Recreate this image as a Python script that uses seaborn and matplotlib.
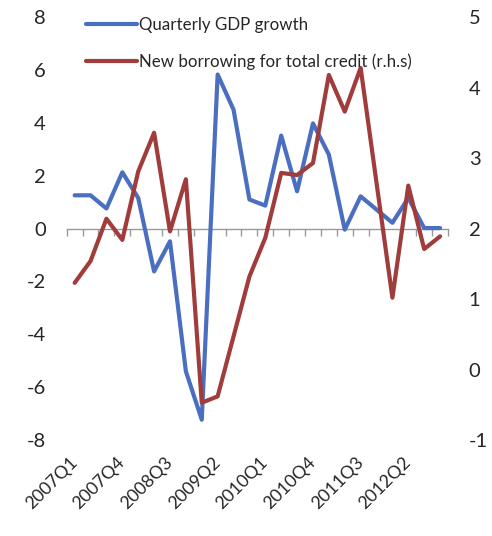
import numpy as np
import pandas as pd
import matplotlib
matplotlib.use('Agg')
import matplotlib.pyplot as plt
import seaborn as sns

# quarters 2007Q1 .. 2012Q4
quarters = [f'{y}Q{q}' for y in range(2007, 2013) for q in range(1, 5)]

gdp_growth = [1.26, 1.26, 0.76, 2.13, 1.16, -1.62, -0.48, -5.40, -7.23, 5.83,
              4.50, 1.10, 0.87, 3.52, 1.41, 3.98, 2.80, -0.04, 1.22, 0.72,
              0.22, 1.16, 0.02, 0.02]
new_borrowing = [1.23, 1.54, 2.14, 1.84, 2.81, 3.36, 1.96, 2.70, -0.47, -0.38,
                 0.47, 1.32, 1.87, 2.79, 2.76, 2.93, 4.18, 3.66, 4.28, 2.65,
                 1.02, 2.61, 1.71, 1.89]

df = pd.DataFrame({'quarter': quarters, 'gdp': gdp_growth, 'credit': new_borrowing})
df['pos'] = np.arange(len(df))

sns.set_style('white')
plt.rcParams['font.family'] = ['Lato', 'DejaVu Sans']
plt.rcParams['axes.unicode_minus'] = False

blue = '#4A6FC0'
red = '#A03C3C'

fig = plt.figure(figsize=(4.92, 5.36), dpi=100)
ax = fig.add_axes([0.1356, 0.179, 0.775, 0.789])
ax2 = ax.twinx()

sns.lineplot(data=df, x='pos', y='gdp', ax=ax, color=blue, lw=3,
             label='Quarterly GDP growth', legend=False)
sns.lineplot(data=df, x='pos', y='credit', ax=ax2, color=red, lw=3,
             label='New borrowing for total credit (r.h.s)', legend=False)

ax.set_xlim(-0.5, len(df) - 0.5)
ax.set_ylim(-8, 8)
ax2.set_ylim(-1, 5)
ax.set_yticks(range(-8, 9, 2))
ax2.set_yticks(range(-1, 6))

for a in (ax, ax2):
    for s in a.spines.values():
        s.set_visible(False)
    a.set_xlabel('')
    a.set_ylabel('')
ax.tick_params(axis='y', length=0, pad=15, labelsize=14.5)
ax2.tick_params(axis='y', length=0, pad=15, labelsize=14.5)

# category labels every 3 quarters along the bottom
ax.set_xticks(df['pos'][::3])
ax.set_xticklabels(df['quarter'][::3], rotation=45, ha='right', va='center',
                   rotation_mode='anchor', fontsize=12.8)
ax.tick_params(axis='x', length=0, pad=14)

# horizontal axis line through zero with boundary ticks
sec = ax.secondary_xaxis(0.5)
sec.set_alignment('bottom')
sec.set_xticks(np.arange(-0.5, len(df), 1))
sec.set_xticklabels([])
sec.tick_params(axis='x', length=5, width=1, color='#999999', direction='out')
sec.spines['bottom'].set_color('#999999')
sec.spines['bottom'].set_linewidth(1)

h1, l1 = ax.get_legend_handles_labels()
h2, l2 = ax2.get_legend_handles_labels()
ax2.legend(h1 + h2, l1 + l2, loc='upper left', bbox_to_anchor=(0.155, 0.988),
           bbox_transform=fig.transFigure, frameon=False, fontsize=12.2,
           handlelength=3.0, handletextpad=0.1, labelspacing=1.25,
           borderaxespad=0.2)

fig.savefig('out.png', dpi=100)
